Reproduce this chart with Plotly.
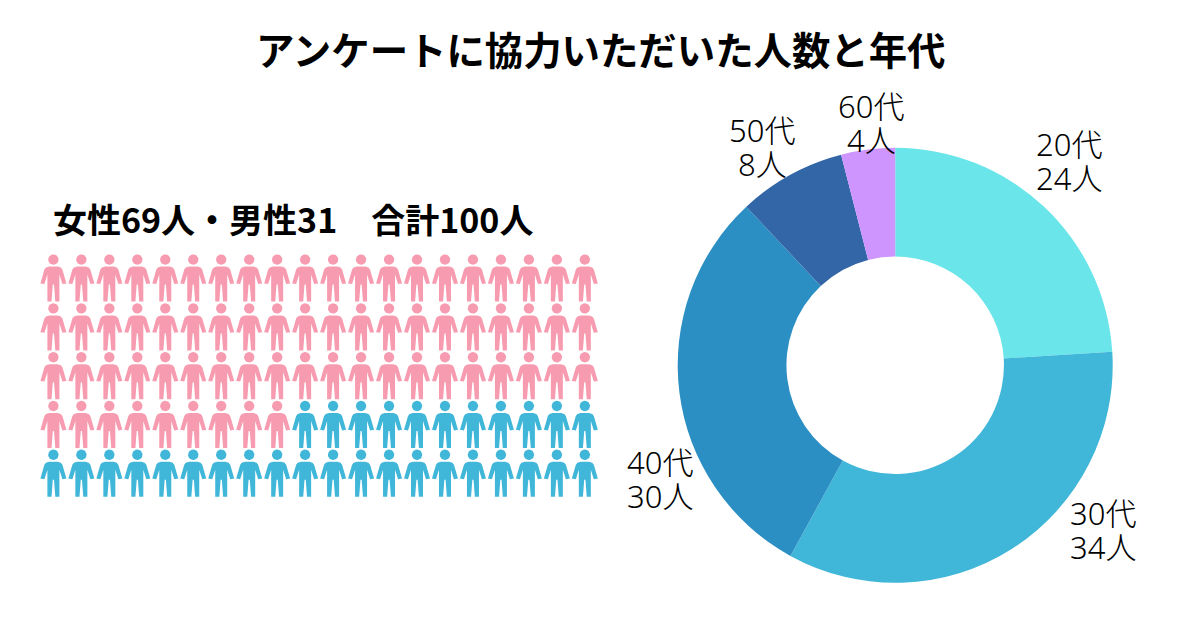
import math
import plotly.graph_objects as go

title = "アンケートに協力いただいた人数と年代"
subtitle = "女性69人・男性31　合計100人"
ages = ["20代", "30代", "40代", "50代", "60代"]
counts = [24, 34, 30, 8, 4]
age_colors = ["#6AE6EA", "#40B6D8", "#2C8FC4", "#3366A6", "#CF95FF"]
women = 69
men = 31
columns = 20
PINK = "#F79CB0"
BLUE = "#40B6D8"
FONT = "Noto Sans CJK JP"
LABEL_FONT = "Noto Sans, Noto Sans CJK JP"
W, H = 1200, 630
PAGE_MARGIN = 8  # the browser's default body margin
# label anchor positions in page pixels
label_pos = [(1069, 161), (1103, 530), (660, 479), (762, 147), (871, 123)]
LINE_GAP = 34

# person glyph, relative to the head centre, in px (y down)
HEAD_R = 5.2
BODY = [(-4.2, 7), (4.2, 7), (7.4, 8), (9, 10), (13, 23.8), (9.0, 24.4), (6.0, 15), (5.9, 27),
        (6.0, 42), (1.9, 42), (0.6, 25), (-0.6, 25), (-1.9, 42), (-6.0, 42), (-5.9, 27), (-6.0, 15),
        (-9.0, 24.4), (-13, 23.8), (-9, 10), (-7.4, 8)]
X0, DX = 53.4, 27.97
Y0, DY = 259.6, 48.8


def person(col, row):
    cx, cy = X0 + col * DX, Y0 + row * DY
    xs = [cx + HEAD_R * math.cos(i * math.pi / 12) for i in range(25)] + [None]
    ys = [cy + HEAD_R * math.sin(i * math.pi / 12) for i in range(25)] + [None]
    xs += [cx + p[0] for p in BODY] + [cx + BODY[0][0], None]
    ys += [cy + p[1] for p in BODY] + [cy + BODY[0][1], None]
    return xs, ys


def group(start, n, color):
    xs, ys = [], []
    for i in range(start, start + n):
        px, py = person(i % columns, i // columns)
        xs += px
        ys += py
    return go.Scatter(x=xs, y=ys, mode="lines", fill="toself", fillcolor=color,
                      line=dict(width=0, color=color), hoverinfo="skip", showlegend=False,
                      xaxis="x", yaxis="y")


fig = go.Figure()
fig.add_trace(group(0, women, PINK))
fig.add_trace(group(women, men, BLUE))

FW, FH = W - PAGE_MARGIN, H - PAGE_MARGIN
cx, cy, r = 895.2 - PAGE_MARGIN, 365.3 - PAGE_MARGIN, 217.5
fig.add_trace(go.Pie(
    labels=ages, values=counts, hole=0.5, sort=False, direction="clockwise", rotation=0,
    marker=dict(colors=age_colors, line=dict(width=0)), textinfo="none", showlegend=False,
    domain=dict(x=[(cx - r) / FW, (cx + r) / FW], y=[1 - (cy + r) / FH, 1 - (cy - r) / FH]),
))

for (lx, ly), a, c in zip(label_pos, ages, counts):
    for line, dy in ((a, -LINE_GAP / 2), (f"{c}人", LINE_GAP / 2)):
        fig.add_annotation(x=lx, y=ly + dy, xref="x", yref="y", text=line, showarrow=False,
                           font=dict(family=LABEL_FONT, size=31, weight=300, color="#000000"),
                           xanchor="center", yanchor="middle")

fig.add_annotation(x=601, y=48, xref="x", yref="y", text=f"<b>{title}</b>", showarrow=False,
                   font=dict(family=FONT, size=38.4, color="#000000"), xanchor="center", yanchor="middle")
fig.add_annotation(x=293, y=218, xref="x", yref="y", text=f"<b>{subtitle}</b>", showarrow=False,
                   font=dict(family=FONT, size=34, color="#000000"), xanchor="center", yanchor="middle")

fig.update_layout(
    width=FW, height=FH, autosize=False, margin=dict(l=0, r=0, t=0, b=0),
    paper_bgcolor="white", plot_bgcolor="white",
    xaxis=dict(range=[PAGE_MARGIN, W], visible=False, domain=[0, 1], fixedrange=True),
    yaxis=dict(range=[H, PAGE_MARGIN], visible=False, domain=[0, 1], fixedrange=True),
)
fig.write_html("out.html", config=dict(displayModeBar=False))
